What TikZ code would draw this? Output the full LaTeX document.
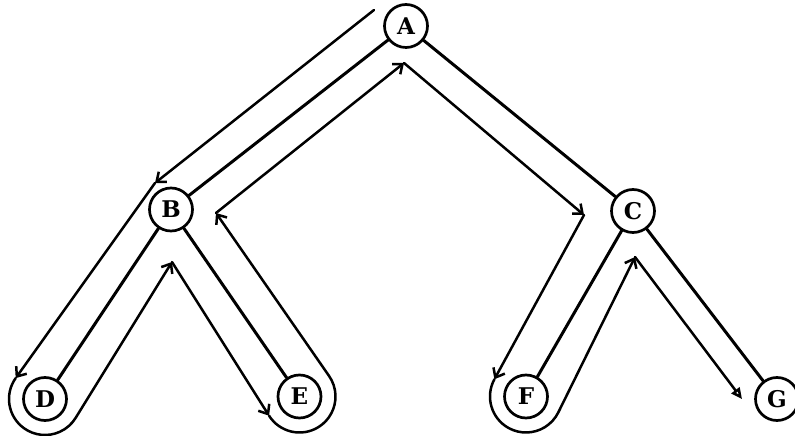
\documentclass[tikz,border=0pt]{standalone}
\usepackage{fontspec}
\newfontfamily\lblfont{DejaVu Serif}
\usetikzlibrary{arrows.meta,calc}
\tikzset{
  vtx/.style={circle,draw,line width=2.7pt,minimum size=43pt,inner sep=0pt,
    font=\lblfont\bfseries\fontsize{23}{23}\selectfont},
  edge/.style={line width=3pt},
  tour/.style={line width=2.5pt,-{Straight Barb[length=8pt,width=13pt]}},
  tourG/.style={line width=2.5pt,-{Triangle[open,length=11pt,width=10pt]}}
}
\begin{document}
\begin{tikzpicture}[x=1pt,y=1pt,line join=round,line cap=round]
\useasboundingbox (0,0) rectangle (795,436);
\node[vtx] (A) at (406,410) {A};
\node[vtx] (B) at (171,226.5) {B};
\node[vtx] (C) at (633,225) {C};
\node[vtx] (D) at (45,37) {D};
\node[vtx] (E) at (299.5,39.5) {E};
\node[vtx] (F) at (526,39.5) {F};
\node[vtx] (G) at (777,37) {G};
% tree edges
\draw[edge] (A) -- (B);
\draw[edge] (A) -- (C);
\draw[edge] (B) -- (D);
\draw[edge] (B) -- (E);
\draw[edge] (C) -- (F);
\draw[edge] (C) -- (G);
% tour points
\coordinate (T0) at (374,426);
\coordinate (PBl) at (155,253);
\coordinate (vDB) at (172,174);
\coordinate (vB) at (216,223);
\coordinate (vA) at (404,373);
\coordinate (PCl) at (584,221);
\coordinate (vC) at (635,179);
\coordinate (Gtip) at (742,37);
\coordinate (Dtip) at ($(D.center)+(144.5:36pt)$);
\coordinate (Etip) at ($(E.center)+(212.3:36pt)$);
\coordinate (Ftip) at ($(F.center)+(151.4:36pt)$);
% tour
\draw[tour] (T0) -- (PBl);
\draw[tour] (PBl) -- (Dtip);
\draw[tour] (Dtip) arc[start angle=144.5,end angle=328.3,radius=36pt] -- (vDB);
\draw[tour] (vDB) -- (Etip);
\draw[tour] (Etip) arc[start angle=212.3,end angle=394.8,radius=36pt] -- (vB);
\draw[tour] (vB) -- (vA);
\draw[tour] (vA) -- (PCl);
\draw[tour] (PCl) -- (Ftip);
\draw[tour] (Ftip) arc[start angle=151.4,end angle=333.7,radius=36pt] -- (vC);
\draw[tourG] (vC) -- (Gtip);
\end{tikzpicture}
\end{document}
